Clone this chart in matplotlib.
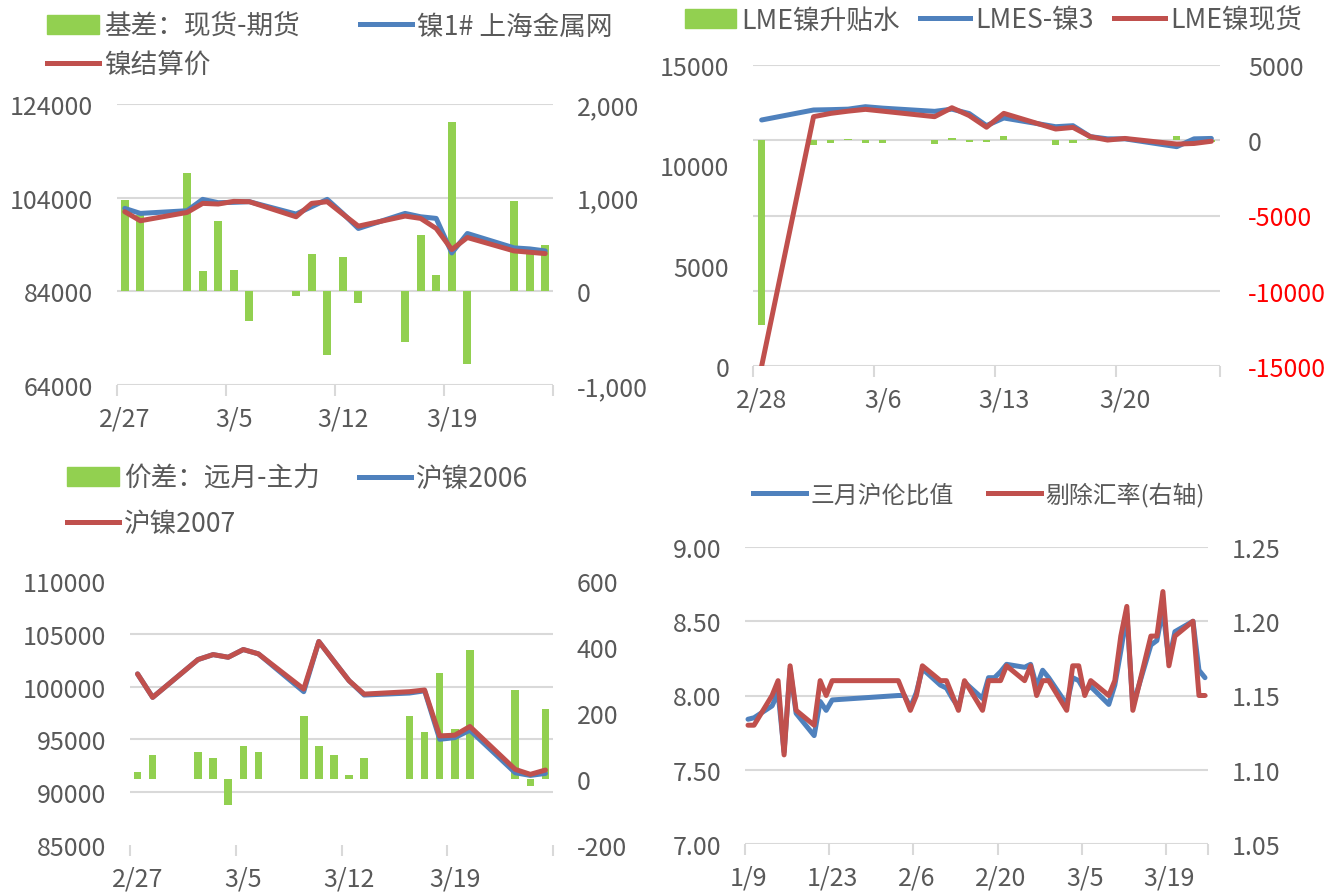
import numpy as np
import pandas as pd
import matplotlib
matplotlib.use("Agg")
import matplotlib.pyplot as plt
from matplotlib.patches import Patch
from matplotlib.lines import Line2D
from matplotlib.ticker import FixedLocator

plt.rcParams['font.family'] = ['Noto Sans CJK SC', 'DejaVu Sans']

GREEN = '#92d050'
BLUE = '#4f81bd'
RED = '#c0504d'
GRID = '#d9d9d9'
TXT = '#595959'

# ---------------- data ----------------
# SHFE trading days (top-left and bottom-left panels)
dates_sh = ['2/27', '2/28', '3/2', '3/3', '3/4', '3/5', '3/6', '3/9', '3/10', '3/11',
            '3/12', '3/13', '3/16', '3/17', '3/18', '3/19', '3/20', '3/23', '3/24', '3/25']
basis = [976, 820, 1268, 220, 756, 231, -320, -50, 400, -678,
         368, -128, -543, 604, 174, 1805, -774, 966, 430, 498]
ni1_smm = [101710, 100640, 101210, 103640, 102930, 103000, 103140, 100500, 102070, 103640,
           100640, 97420, 100640, 99920, 99570, 92200, 96350, 93280, 93060, 92630]
ni_settle = [101000, 99070, 100850, 102780, 102640, 103210, 103140, 99920, 102780, 103140,
             100500, 97920, 100070, 99570, 97420, 92920, 95490, 92630, 92350, 92060]

spread = [22, 73, 83, 63, -80, 101, 83, 192, 101, 73,
          12, 63, 192, 141, 321, 152, 391, 271, -22, 212]
ni2006 = [101200, 98980, 102560, 103030, 102780, 103510, 103100, 99520, 104270, 102400,
          100560, 99200, 99390, 99600, 95010, 95170, 95870, 91840, 91590, 91780]
ni2007 = [101200, 98980, 102560, 103030, 102780, 103510, 103100, 99770, 104270, 102400,
          100560, 99290, 99520, 99680, 95330, 95400, 96220, 92160, 91690, 92100]

# LME (top-right panel)
dates_lme = ['2/28', '3/2', '3/3', '3/4', '3/5', '3/6', '3/9', '3/10', '3/11', '3/12',
             '3/13', '3/16', '3/17', '3/18', '3/19', '3/20', '3/23', '3/24', '3/25']
lme_prem = [-12300, -300, -200, 80, -180, -200, -280, 130, -100, -130,
            300, -300, -150, 80, -50, 30, 250, -200, -120]
lmes3 = [12260, 12758, 12775, 12800, 12922, 12850, 12690, 12800, 12580, 11980,
         12360, 11925, 11975, 11430, 11320, 11320, 10930, 11320, 11340]
lme_spot = [0, 12425, 12590, 12700, 12790, 12700, 12425, 12870, 12480, 11900,
            12590, 11810, 11890, 11430, 11260, 11340, 11060, 11090, 11200]

# SHFE / LME ratio (bottom-right panel)
dates_ratio = ['1/9', '1/10', '1/13', '1/14', '1/15', '1/16', '1/17', '1/20', '1/21', '1/22', '1/23',
               '2/3', '2/4', '2/5', '2/6', '2/7', '2/10', '2/11', '2/12', '2/13', '2/14',
               '2/17', '2/18', '2/19', '2/20', '2/21', '2/24', '2/25', '2/26', '2/27', '2/28',
               '3/2', '3/3', '3/4', '3/5', '3/6', '3/9', '3/10', '3/11', '3/12', '3/13',
               '3/16', '3/17', '3/18', '3/19', '3/20', '3/23', '3/24', '3/25']
ratio = [7.84, 7.85, 7.93, 8.02, 7.62, 8.18, 7.88, 7.73, 7.96, 7.90, 7.97,
         8.00, 8.00, 7.92, 8.02, 8.18, 8.07, 8.05, 7.98, 7.92, 8.09,
         7.98, 8.12, 8.12, 8.16, 8.21, 8.19, 8.21, 8.06, 8.17, 8.12,
         7.94, 8.12, 8.10, 8.03, 8.06, 7.94, 8.07, 8.30, 8.55, 7.93,
         8.34, 8.37, 8.58, 8.23, 8.43, 8.50, 8.17, 8.12]
ratio_ex_fx = [1.13, 1.13, 1.15, 1.16, 1.11, 1.17, 1.14, 1.13, 1.16, 1.15, 1.16,
               1.16, 1.15, 1.14, 1.15, 1.17, 1.16, 1.16, 1.15, 1.14, 1.16,
               1.14, 1.16, 1.16, 1.16, 1.17, 1.16, 1.17, 1.15, 1.16, 1.16,
               1.14, 1.17, 1.17, 1.15, 1.16, 1.15, 1.16, 1.19, 1.21, 1.14,
               1.19, 1.19, 1.22, 1.17, 1.19, 1.20, 1.15, 1.15]

xlab_sh = ['2/27', '3/5', '3/12', '3/19']
xlab_lme = ['2/28', '3/6', '3/13', '3/20']
xlab_ratio = ['1/9', '1/23', '2/6', '2/20', '3/5', '3/19']


def to_dt(labels):
    return pd.to_datetime(['2020/' + s for s in labels], format='%Y/%m/%d')


def days(labels, start):
    return np.array((to_dt(labels) - to_dt([start])[0]).days)


fig = plt.figure(figsize=(13.39, 8.95), dpi=100)
W, H = 1339, 895


def rect(x0, y0, x1, y1):
    return [x0 / W, 1 - y1 / H, (x1 - x0) / W, (y1 - y0) / H]


def style_x(ax, dates, labels, step):
    n = days([dates[-1]], dates[0])[0] + 1
    ax.set_xlim(-0.5, n - 0.5)
    ax.set_xticks(days(labels, dates[0]))
    ax.set_xticklabels(labels)
    minor = list(np.arange(-0.5, n, step))
    if minor[-1] != n - 0.5:
        minor.append(n - 0.5)
    ax.xaxis.set_minor_locator(FixedLocator(minor))
    ax.tick_params(axis='x', which='major', length=0, pad=15, labelsize=18, labelcolor=TXT)
    ax.tick_params(axis='x', which='minor', length=8, width=1.5, color=GRID)
    for s in ax.spines.values():
        s.set_visible(False)
    ax.spines['bottom'].set_visible(True)
    ax.spines['bottom'].set_color(GRID)
    ax.spines['bottom'].set_linewidth(1.5)


def style_y(ax, lo, hi, step, fmt, pad=17):
    ticks = np.arange(lo, hi + step / 2, step)
    ax.set_ylim(lo, hi)
    ax.set_yticks(ticks)
    ax.set_yticklabels([fmt(t) for t in ticks])
    ax.tick_params(axis='y', which='both', length=0, labelsize=18, labelcolor=TXT, pad=pad)
    for s in ax.spines.values():
        s.set_visible(False)
    return ticks


def pair(r):
    axb = fig.add_axes(r)
    axl = axb.twinx()
    axb.yaxis.tick_right()
    axl.yaxis.tick_left()
    return axb, axl


line_kw = dict(lw=3.6, solid_joinstyle='round', solid_capstyle='round')
leg_kw = dict(frameon=False, borderpad=0, borderaxespad=0, handletextpad=0.2,
              labelcolor=TXT, loc='center left')

# ---------------- panel 1: basis ----------------
axb, axl = pair(rect(117, 105, 553, 386))
x = days(dates_sh, dates_sh[0])
axb.bar(x, basis, width=0.5, color=GREEN)
axl.plot(x, ni1_smm, color=BLUE, **line_kw)
axl.plot(x, ni_settle, color=RED, **line_kw)
style_x(axb, dates_sh, xlab_sh, 7)
style_y(axb, -1000, 2000, 1000, lambda v: f'{int(v):,}')
style_y(axl, 64000, 124000, 20000, lambda v: f'{int(v)}')
axb.grid(axis='y', color=GRID, lw=1.5)
axb.set_axisbelow(True)
h = [Patch(color=GREEN), Line2D([], [], color=RED, lw=3.6), Line2D([], [], color=BLUE, lw=3.6)]
fig.legend(h, ['基差：现货-期货', '镍结算价', '镍1# 上海金属网'], ncol=2,
           bbox_to_anchor=(47 / W, 1 - 46.5 / H), fontsize=19.2, handlelength=1.95,
           columnspacing=2.25, labelspacing=0.45, **leg_kw)

# ---------------- panel 2: LME ----------------
axb, axl = pair(rect(753, 66, 1220, 367))
x = days(dates_lme, dates_lme[0])
axb.bar(x, lme_prem, width=0.42, color=GREEN)
axl.plot(x, lmes3, color=BLUE, **line_kw)
axl.plot(x, lme_spot, color=RED, **line_kw)
style_x(axb, dates_lme, xlab_lme, 7)
ticks = style_y(axb, -15000, 5000, 5000, lambda v: f'{int(v)}', pad=20)
for lab, v in zip(axb.get_yticklabels(), ticks):
    if v < 0:
        lab.set_color('#ff0000')
style_y(axl, 0, 15000, 5000, lambda v: f'{int(v)}')
axb.grid(axis='y', color=GRID, lw=1.5)
axb.set_axisbelow(True)
h = [Patch(color=GREEN), Line2D([], [], color=BLUE, lw=3.6), Line2D([], [], color=RED, lw=3.6)]
fig.legend(h, ['LME镍升贴水', 'LMES-镍3', 'LME镍现货'], ncol=3,
           bbox_to_anchor=(685 / W, 1 - 21 / H), fontsize=19.2, handlelength=1.9,
           columnspacing=0.75, **leg_kw)

# ---------------- panel 3: spread ----------------
axb, axl = pair(rect(130, 582, 553, 846))
x = days(dates_sh, dates_sh[0])
axb.bar(x, spread, width=0.5, color=GREEN)
axl.plot(x, ni2006, color=BLUE, **line_kw)
axl.plot(x, ni2007, color=RED, **line_kw)
style_x(axb, dates_sh, xlab_sh, 7)
style_y(axb, -200, 600, 200, lambda v: f'{int(v)}')
style_y(axl, 85000, 110000, 5000, lambda v: f'{int(v)}')
# gridlines follow the left axis; drawn on the bar axes so bars sit on top
axb.yaxis.set_minor_locator(FixedLocator(np.linspace(-200, 600, 6)))
axb.grid(axis='y', which='minor', color=GRID, lw=1.5)
axb.set_axisbelow(True)
h = [Patch(color=GREEN), Line2D([], [], color=RED, lw=3.6), Line2D([], [], color=BLUE, lw=3.6)]
fig.legend(h, ['价差：远月-主力', '沪镍2007', '沪镍2006'], ncol=2,
           bbox_to_anchor=(67 / W, 1 - 502 / H), fontsize=19.2, handlelength=1.95,
           columnspacing=1.45, labelspacing=0.67, **leg_kw)

# ---------------- panel 4: ratio ----------------
ax = fig.add_axes(rect(745, 548, 1208, 845))
ax2 = ax.twinx()
x = days(dates_ratio, dates_ratio[0])
ax.plot(x, ratio, color=BLUE, **line_kw)
ax2.plot(x, ratio_ex_fx, color=RED, **line_kw)
style_x(ax, dates_ratio, xlab_ratio, 14)
style_y(ax, 7.0, 9.0, 0.5, lambda v: f'{v:.2f}')
style_y(ax2, 1.05, 1.25, 0.05, lambda v: f'{v:.2f}')
ax.grid(axis='y', color=GRID, lw=1.5)
ax.set_axisbelow(True)
h = [Line2D([], [], color=BLUE, lw=3.6), Line2D([], [], color=RED, lw=3.6)]
fig.legend(h, ['三月沪伦比值', '剔除汇率(右轴)'], ncol=2,
           bbox_to_anchor=(753 / W, 1 - 495 / H), fontsize=17.2, handlelength=2.2,
           columnspacing=1.45, **leg_kw)

fig.savefig('out.png', dpi=100)
